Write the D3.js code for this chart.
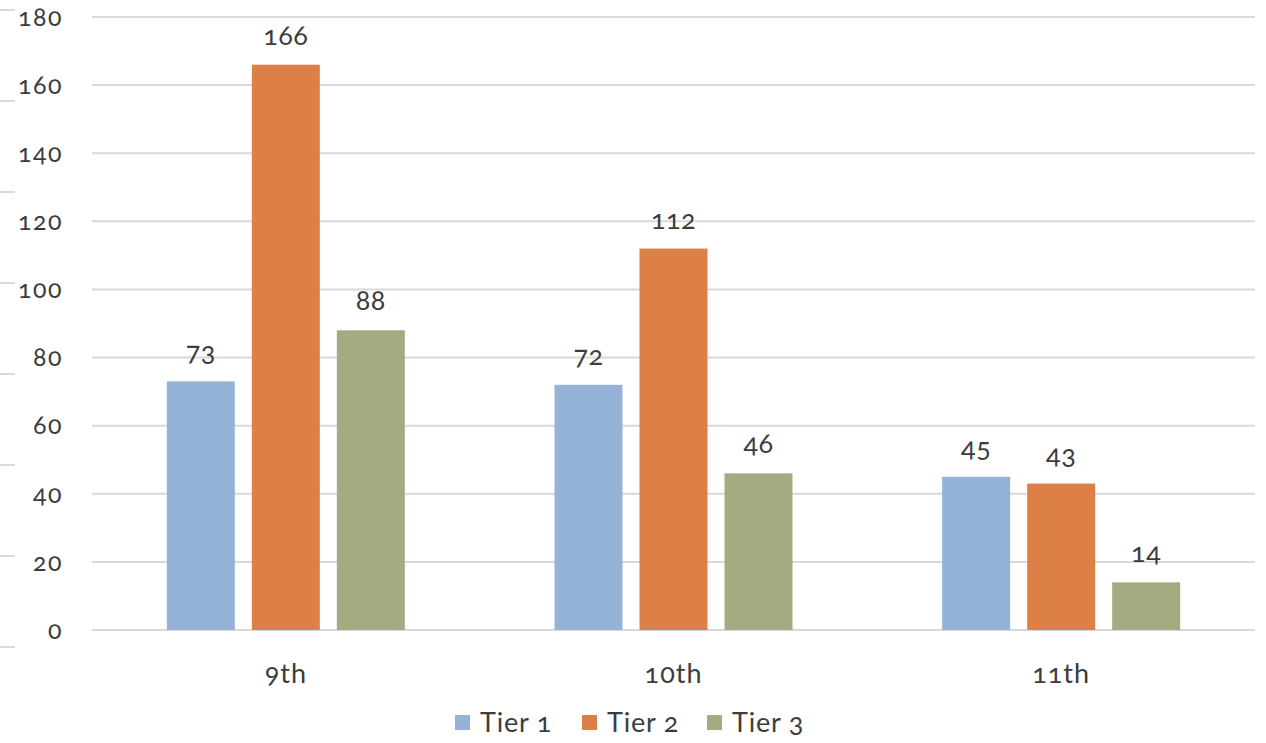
<!DOCTYPE html>
<html><head><meta charset="utf-8">
<script src="https://cdn.jsdelivr.net/npm/d3@7"></script>
<style>
body{margin:0;background:#fff;}
svg text{font-family:"Lato","Open Sans",sans-serif;fill:#3c3c3c;font-variant-numeric:oldstyle-nums;font-feature-settings:"onum" 1;}
</style></head>
<body><svg id="c" width="1266" height="743"></svg>
<script>
const categories = ["9th", "10th", "11th"];
const series = ["Tier 1", "Tier 2", "Tier 3"];
const tier1 = [73, 72, 45];
const tier2 = [166, 112, 43];
const tier3 = [88, 46, 14];
const yTicks = [0, 20, 40, 60, 80, 100, 120, 140, 160, 180];
const colors = ["#95B3D7", "#DD8047", "#A5AB81"];
const values = [tier1, tier2, tier3];

(function(){
const svg = d3.select("#c");
const pLeft = 92, pRight = 1255, pTop = 17, pBottom = 630;
const y = d3.scaleLinear().domain([0, 180]).range([pBottom, pTop]);
const x0 = d3.scaleBand().domain(categories).range([pLeft, pRight]);
const groupW = 238;
const x1 = d3.scaleBand().domain(series).range([0, groupW]).paddingInner(0.2);

// decorative side dashes
const dashes = d3.range(8);
svg.selectAll("line.dash").data(dashes).join("line")
  .attr("x1", 0).attr("x2", 15)
  .attr("y1", d => 10 + d * 91).attr("y2", d => 10 + d * 91)
  .attr("stroke", "#d9d9d9").attr("stroke-width", 2);

// gridlines
svg.append("g").selectAll("line").data(yTicks).join("line")
  .attr("x1", pLeft).attr("x2", pRight)
  .attr("y1", d => y(d)).attr("y2", d => y(d))
  .attr("stroke", "#d9d9d9").attr("stroke-width", 2);

// y labels
svg.append("g").selectAll("text").data(yTicks).join("text")
  .attr("x", 63).attr("y", d => y(d)).attr("dy", "0.35em")
  .attr("text-anchor", "end").attr("font-size", 25).attr("letter-spacing", 1.5).text(d => d);

// bars
const g = svg.append("g");
categories.forEach((cat, ci) => {
  const off = x0(cat) + (x0.bandwidth() - groupW) / 2;
  series.forEach((s, si) => {
    const v = values[si][ci];
    g.append("rect")
      .attr("x", off + x1(s)).attr("width", x1.bandwidth())
      .attr("y", y(v)).attr("height", y(0) - y(v))
      .attr("fill", colors[si]);
    g.append("text")
      .attr("x", off + x1(s) + x1.bandwidth() / 2).attr("y", y(v) - 20)
      .attr("text-anchor", "middle").attr("font-size", 27).attr("letter-spacing", 0.5).text(v);
  });
});

// x labels
svg.append("g").selectAll("text").data(categories).join("text")
  .attr("x", d => x0(d) + x0.bandwidth() / 2).attr("y", 683)
  .attr("text-anchor", "middle").attr("font-size", 27).attr("letter-spacing", 1).text(d => d);

// legend
const legX = [455, 582, 707];
const leg = svg.append("g");
series.forEach((s, i) => {
  leg.append("rect").attr("x", legX[i]).attr("y", 715).attr("width", 15).attr("height", 15).attr("fill", colors[i]);
  leg.append("text").attr("x", legX[i] + 25).attr("y", 732).attr("font-size", 27).attr("letter-spacing", 0.8).text(s);
});
})();
</script></body></html>
